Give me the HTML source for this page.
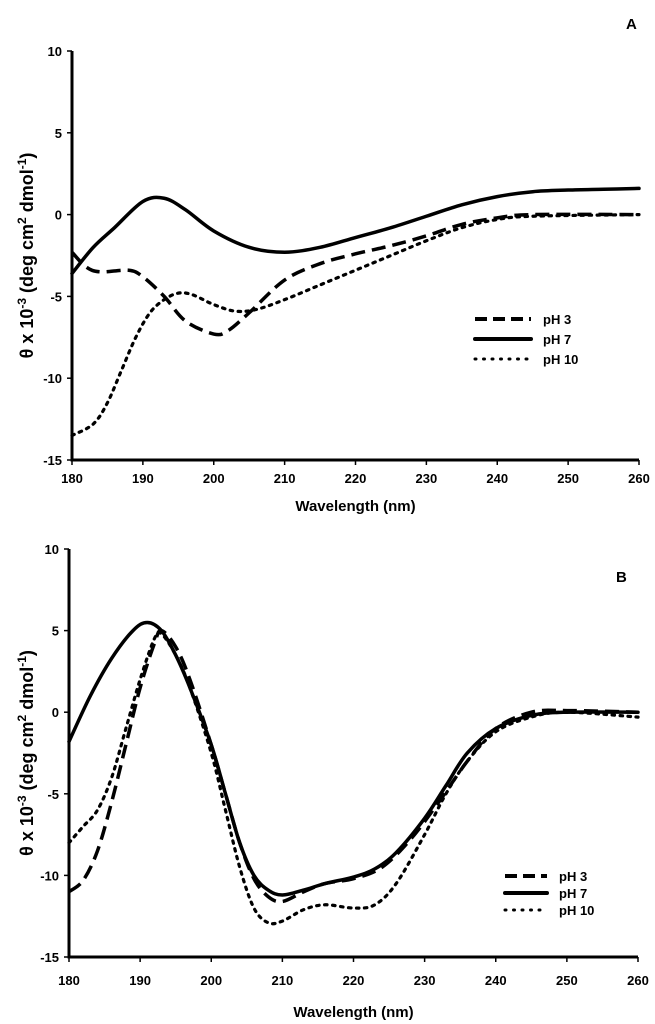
<!DOCTYPE html>
<html><head><meta charset="utf-8"><style>
body{margin:0;background:#fff;}
svg{display:block;font-family:"Liberation Sans",sans-serif;}
</style></head><body>
<svg id="chart" width="655" height="1024" viewBox="0 0 655 1024"></svg>
<script>
const xTicks=[180,190,200,210,220,230,240,250,260];
const yTicks=[10,5,0,-5,-10,-15];
const seriesNames=["pH 3","pH 7","pH 10"];
const a_pH3_x=[180,182,184,188,190,193,196,200,202,205,210,215,220,225,230,235,240,245,260];
const a_pH3_y=[-2.3,-3.2,-3.5,-3.4,-3.8,-5,-6.5,-7.3,-7.1,-6,-4,-3,-2.4,-1.9,-1.3,-0.6,-0.2,0,0];
const a_pH7_x=[180,183,186,190,193,196,200,205,210,215,220,225,230,235,240,245,250,255,260];
const a_pH7_y=[-3.6,-2,-0.8,0.8,1,0.3,-1,-2,-2.3,-2,-1.4,-0.8,-0.1,0.6,1.1,1.4,1.5,1.55,1.6];
const a_pH10_x=[180,183,185,187,189,191,193,195,197,200,203,206,210,215,220,225,230,235,240,245,260];
const a_pH10_y=[-13.5,-12.8,-11.5,-9.5,-7.5,-6,-5.2,-4.8,-4.9,-5.5,-5.9,-5.8,-5.2,-4.3,-3.4,-2.5,-1.6,-0.8,-0.3,-0.1,0];
const b_pH3_x=[180,182,184,186,188,190,192,193,195,197,200,202,204,206,208,210,213,216,220,224,228,232,236,240,245,250,260];
const b_pH3_y=[-11,-10.3,-8.5,-5.5,-2,1.5,4.2,5,4,2,-2,-5,-8,-10.2,-11.3,-11.6,-11,-10.5,-10.2,-9.5,-7.8,-5.5,-3,-1,0,0.1,0];
const b_pH7_x=[180,183,186,189,191,193,195,197,200,202,204,206,208,210,213,216,220,223,226,230,233,236,240,245,250,260];
const b_pH7_y=[-1.8,1,3.3,5,5.5,5,3.5,1.5,-2,-5,-8,-10,-10.9,-11.2,-10.9,-10.5,-10.1,-9.6,-8.6,-6.5,-4.5,-2.5,-1,-0.2,0,0];
const b_pH10_x=[180,182,184,186,188,190,192,193,195,197,200,202,204,206,208,210,213,216,220,223,226,230,233,236,240,245,250,260];
const b_pH10_y=[-8,-7,-6,-4,-1,2,4.5,4.8,3.5,1.5,-2.5,-6,-9.5,-12,-12.9,-12.8,-12.1,-11.8,-12,-11.8,-10.5,-7.5,-5,-3,-1.2,-0.3,0,-0.3];

const NS="http://www.w3.org/2000/svg";
const svg=document.getElementById('chart');
function mk(tag,attrs,parent){const e=document.createElementNS(NS,tag);for(const k in attrs)e.setAttribute(k,attrs[k]);(parent||svg).appendChild(e);return e;}
const dashes=["14,7","","2.5,5.5"];
const caps=["butt","round","round"];

function panel(id,x0,x1,yTop,yBot,label,labelX,labelY,series,leg,tickOff,titleOff){
  const g=mk('g',{});
  
  
  const sx=v=>x0+(v-180)/80*(x1-x0);
  const sy=v=>yTop+(10-v)/25*(yBot-yTop);
  const ax=mk('path',{d:`M${x0},${yTop} V${yBot} H${x1}`,stroke:'#000','stroke-width':3,fill:'none'},g);
  
  
  xTicks.forEach(t=>{
    mk('line',{x1:sx(t),x2:sx(t),y1:yBot,y2:yBot+5,stroke:'#000','stroke-width':1.5},g);
    const tx=mk('text',{x:sx(t),y:yBot+tickOff,'text-anchor':'middle','font-size':13,'font-weight':'bold'},g);
    tx.textContent=t;
    
    
  });
  yTicks.forEach(t=>{
    mk('line',{x1:x0-5,x2:x0,y1:sy(t),y2:sy(t),stroke:'#000','stroke-width':1.5},g);
    const tx=mk('text',{x:x0-10,y:sy(t)+5,'text-anchor':'end','font-size':13,'font-weight':'bold'},g);
    tx.textContent=t;
    
    
  });
  const xt=mk('text',{x:(x0+x1)/2,y:yBot+titleOff,'text-anchor':'middle','font-size':15,'font-weight':'bold'},g);
  xt.textContent='Wavelength (nm)';
  
  
  const cy=(yTop+yBot)/2;
  const yt=mk('text',{x:0,y:0,transform:`translate(33,${cy}) rotate(-90)`,'text-anchor':'middle','font-size':18,'font-weight':'bold'},g);
  yt.innerHTML='θ x 10<tspan dy="-7" font-size="12">-3</tspan><tspan dy="7"> (deg cm</tspan><tspan dy="-7" font-size="12">2</tspan><tspan dy="7"> dmol</tspan><tspan dy="-7" font-size="12">-1</tspan><tspan dy="7">)</tspan>';
  
  
  const pl=mk('text',{x:labelX,y:labelY,'font-size':15,'font-weight':'bold'},g);
  pl.textContent=label;
  
  
  series.forEach((s,i)=>{
    const pts=s[0].map((v,k)=>[sx(v),sy(s[1][k])]);
    let d=`M${pts[0][0]},${pts[0][1]}`;
    for(let k=0;k<pts.length-1;k++){
      const p0=pts[Math.max(0,k-1)],p1=pts[k],p2=pts[k+1],p3=pts[Math.min(pts.length-1,k+2)];
      d+=` C${p1[0]+(p2[0]-p0[0])/6},${p1[1]+(p2[1]-p0[1])/6} ${p2[0]-(p3[0]-p1[0])/6},${p2[1]-(p3[1]-p1[1])/6} ${p2[0]},${p2[1]}`;
    }
    const attrs={d,fill:'none',stroke:'#000','stroke-width':i==2?3.2:3.5,'stroke-linecap':caps[i]};
    if(dashes[i])attrs['stroke-dasharray']=dashes[i];
    const p=mk('path',attrs,g);
    
    
  });
  seriesNames.forEach((n,i)=>{
    const y=leg.y+i*leg.dy;
    const attrs={x1:leg.x,x2:leg.x+leg.w,y1:y,y2:y,stroke:'#000','stroke-width':i==2?3:4,'stroke-linecap':caps[i]};
    if(dashes[i])attrs['stroke-dasharray']=i==0?'12,6':'1,7.5';
    const l=mk('line',attrs,g);
    
    
    const t=mk('text',{x:leg.x+leg.w+12,y:y+5,'font-size':13,'font-weight':'bold'},g);
    t.textContent=n;
    
    
  });
}
panel('a',72,639,51,460,'A',626,29,
  [[a_pH3_x,a_pH3_y],[a_pH7_x,a_pH7_y],[a_pH10_x,a_pH10_y]],{x:475,w:56,y:319,dy:20},23,51);
panel('b',69,638,549,957,'B',616,582,
  [[b_pH3_x,b_pH3_y],[b_pH7_x,b_pH7_y],[b_pH10_x,b_pH10_y]],{x:505,w:42,y:876,dy:17},28,60);
</script>
</body></html>
